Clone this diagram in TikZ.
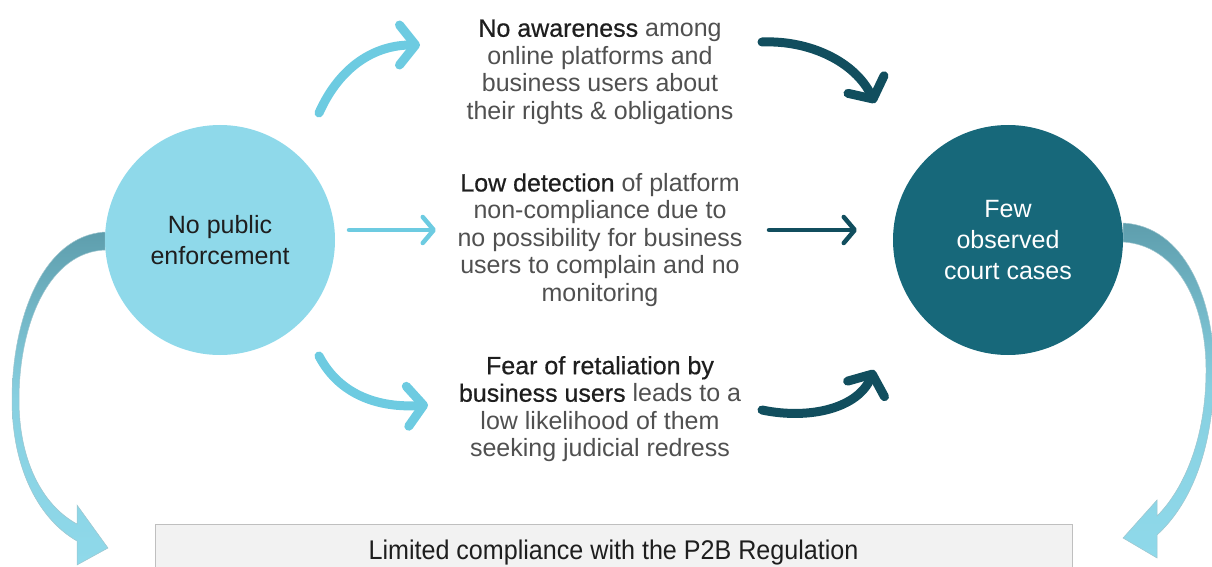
\documentclass[tikz,border=0pt]{standalone}
\usepackage{fontspec}
\setmainfont{Liberation Sans}
\newfontfamily\medf{Liberation Sans}[FakeBold=0.6]
\usetikzlibrary{arrows.meta}
\definecolor{lightc}{HTML}{8FD9EA}
\definecolor{darkc}{HTML}{17687A}
\definecolor{larrow}{HTML}{6DCBE1}
\definecolor{darrow}{HTML}{114E5E}
\definecolor{txtc}{HTML}{505050}
\definecolor{embc}{HTML}{1E1E1E}
\definecolor{boxc}{HTML}{F2F2F2}
\definecolor{boxb}{HTML}{BFBFBF}
\definecolor{tealg}{HTML}{5E9EAD}
\newcommand{\emb}[1]{{\medf\color{embc}#1}}
\begin{document}
\begin{tikzpicture}[x=1pt,y=-1pt,
 txt/.style={align=center, font=\fontsize{25}{27.5}\selectfont, text=txtc, inner sep=0pt},
 circ/.style={circle, minimum size=230pt, inner sep=0pt, align=center, font=\fontsize{25}{31}\selectfont},
 curarr/.style={line width=9pt, line cap=round, -{Straight Barb[length=16pt,width=40pt,round]}},
 strarr/.style={line width=4.5pt, line cap=round, -{Straight Barb[length=11pt,width=26pt,round]}},
 bigarr/.style={draw=tealg!60, line width=0.5pt, top color=tealg, bottom color=lightc, middle color=lightc!85!tealg}
]
\useasboundingbox (0,0) rectangle (1212,567);
\clip (0,0) rectangle (1212,567);

% big curved arrows
\path[bigarr] (105,232) .. controls (42,236) and (12,320) .. (12,400)
  .. controls (12,470) and (40,520) .. (77,541)
  -- (77,565) -- (108,548) -- (77,505) -- (77,524)
  .. controls (42,505) and (19,460) .. (19,400)
  .. controls (19,322) and (50,252) .. (105,250) -- cycle;
\path[bigarr] (1123,223) .. controls (1185,226) and (1214,300) .. (1214,370)
  .. controls (1214,450) and (1190,505) .. (1157,535)
  -- (1157,558) -- (1123,538) -- (1157,500) -- (1157,516)
  .. controls (1183,490) and (1206,440) .. (1206,370)
  .. controls (1206,300) and (1175,245) .. (1123,242) -- cycle;

% circles
\node[circ, fill=lightc, text=embc] (pub) at (220,240) {No public\\enforcement};
\node[circ, fill=darkc, text=white] (few) at (1008,240) {Few\\observed\\court cases};

% middle texts
\node[txt] (aware) at (600,72) {\emb{No awareness} among\\online platforms and\\business users about\\their rights \& obligations};
\node[txt] (detect) at (600,240) {\emb{Low detection} of platform\\non-compliance due to\\no possibility for business\\users to complain and no\\monitoring};
\node[txt] (fear) at (600,409) {\emb{Fear of retaliation by}\\\emb{business users} leads to a\\low likelihood of them\\seeking judicial redress};

% bottom box
\node[draw=boxb, fill=boxc, line width=0.8pt, anchor=north, minimum width=917pt,
  inner ysep=0pt, text height=35pt, text depth=30pt, text=embc,
  font=\fontsize{27}{30}\selectfont] (lim) at (613.5,524)
  {\scalebox{0.93}[1]{Limited compliance with the P2B Regulation}};

% small arrows
\coordinate (a1s) at (319,113);
\coordinate (a1e) at (420,45);
\coordinate (a2s) at (349,230);
\coordinate (a2e) at (436,230);
\coordinate (a3s) at (319,356);
\coordinate (a3e) at (428,405);
\coordinate (b1s) at (762,42);
\coordinate (b1e) at (875,103);
\coordinate (b2s) at (769,230);
\coordinate (b2e) at (857,230);
\coordinate (b3s) at (762,410);
\coordinate (b3e) at (874,370);

\draw[curarr, larrow] (a1s) .. controls (340,66) and (375,45) .. (a1e);
\draw[strarr, larrow] (a2s) -- (a2e);
\draw[curarr, larrow] (a3s) .. controls (340,396) and (380,408) .. (a3e);
\draw[curarr, darrow] (b1s) .. controls (810,40) and (855,62) .. (b1e);
\draw[strarr, darrow] (b2s) -- (b2e);
\draw[curarr, darrow] (b3s) .. controls (810,420) and (858,408) .. (b3e);
\end{tikzpicture}
\end{document}
